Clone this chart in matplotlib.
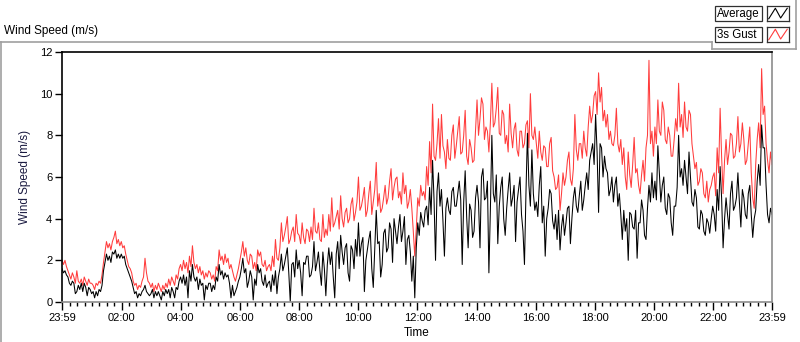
import numpy as np
import matplotlib.pyplot as plt
from matplotlib.lines import Line2D
from matplotlib.patches import Rectangle

# wind speed (m/s), 20 samples per hour (3 min) starting at 23:59
gust = [
    2.0, 1.8, 2.0, 1.7, 1.5, 1.3, 1.1, 1.4, 1.2, 0.9, 1.5, 1.0, 0.9, 1.1, 0.8, 1.2, 1.0, 0.8, 1.1, 0.9,
    0.9, 0.8, 0.6, 0.9, 0.8, 1.0, 0.9, 1.3, 1.9, 2.4, 2.9, 2.6, 2.8, 2.5, 2.9, 3.1, 3.4, 2.8, 3.0, 2.7,
    2.9, 2.6, 2.7, 2.3, 2.0, 1.7, 1.6, 1.4, 1.0, 0.8, 0.9, 0.6, 0.8, 0.7, 1.0, 1.2, 2.1, 1.4, 1.0, 0.9,
    0.7, 0.9, 0.5, 0.8, 0.6, 0.9, 0.7, 0.5, 0.8, 0.6, 0.9, 0.7, 1.1, 0.8, 1.2, 1.0, 0.8, 1.3, 1.1, 1.6,
    1.8, 1.5, 2.0, 1.6, 1.9, 1.4, 2.2, 1.7, 2.7, 1.9, 1.6, 1.8, 1.4, 1.7, 1.3, 1.5, 1.1, 1.4, 1.2, 1.5,
    1.4, 1.1, 1.3, 1.0, 1.7, 1.5, 2.5, 2.0, 2.2, 1.8, 2.3, 1.9, 2.1, 1.6, 1.8, 1.5, 1.2, 1.0, 1.3, 1.6,
    2.0, 2.4, 2.9, 2.2, 2.6, 2.0, 1.8, 2.3, 2.2, 1.6, 1.9, 1.5, 2.5, 2.2, 2.4, 1.8, 1.7, 2.0, 1.5, 1.7,
    1.8, 1.5, 2.2, 1.7, 3.0, 2.1, 2.0, 2.6, 3.8, 2.9, 3.2, 3.6, 4.1, 2.8, 3.0, 3.4, 3.6, 2.9, 4.2, 3.3,
    3.2, 2.8, 3.8, 3.1, 2.8, 3.5, 3.4, 2.9, 3.6, 3.0, 4.5, 3.4, 3.3, 3.8, 3.0, 2.9, 4.2, 3.1, 3.5, 3.2,
    4.2, 3.4, 5.0, 3.6, 3.8, 4.1, 4.4, 3.5, 5.1, 4.0, 3.6, 4.3, 4.5, 3.8, 4.0, 4.7, 5.0, 3.9, 4.3, 4.8,
    6.0, 4.4, 4.6, 5.0, 5.5, 4.1, 4.4, 5.2, 5.8, 4.2, 4.8, 5.4, 6.7, 4.6, 5.2, 4.3, 4.5, 5.0, 5.6, 4.7,
    5.0, 5.8, 6.4, 4.9, 5.5, 5.9, 6.0, 5.0, 5.3, 4.7, 6.2, 5.2, 5.6, 4.5, 4.8, 5.4, 4.5, 3.4, 2.2, 3.5,
    5.0, 4.6, 5.6, 5.1, 5.3, 4.9, 6.5, 5.6, 7.7, 6.2, 9.5, 7.0, 6.8, 7.6, 8.8, 6.9, 9.0, 7.5, 7.2, 6.4,
    7.8, 6.9, 6.8, 8.0, 8.5, 6.9, 7.5, 8.2, 8.9, 7.1, 7.2, 8.0, 9.2, 7.0, 6.6, 7.8, 7.4, 6.7, 6.8, 8.2,
    9.7, 8.0, 8.8, 9.8, 9.5, 7.8, 8.4, 8.2, 7.2, 8.6, 10.5, 8.4, 8.6, 9.3, 10.3, 8.1, 8.0, 9.2, 9.0, 7.6,
    8.0, 7.2, 9.5, 8.1, 7.4, 8.3, 8.6, 7.3, 7.0, 8.2, 8.2, 7.4, 7.6, 8.5, 8.7, 7.4, 10.0, 8.0, 7.8, 8.4,
    7.6, 6.9, 8.2, 7.2, 6.8, 7.5, 7.4, 6.5, 6.5, 7.6, 7.9, 6.3, 6.0, 5.4, 5.5, 6.1, 4.4, 5.2, 6.2, 5.6,
    6.0, 6.8, 7.2, 5.9, 5.6, 6.4, 9.0, 7.3, 6.8, 7.6, 7.6, 6.9, 8.2, 7.4, 7.0, 8.4, 9.4, 8.6, 9.0, 9.9,
    10.1, 9.0, 11.0, 9.6, 10.3, 8.7, 9.2, 8.4, 9.0, 7.8, 8.2, 7.6, 7.5, 8.0, 9.3, 7.6, 7.2, 7.8, 6.6, 7.4,
    6.0, 5.4, 7.2, 6.1, 5.5, 6.6, 7.9, 6.2, 6.4, 5.6, 5.2, 6.1, 6.8, 5.8, 7.4, 8.0, 11.6, 7.6, 8.2, 7.0,
    8.4, 7.6, 9.7, 8.2, 8.0, 9.6, 9.2, 7.8, 7.6, 8.4, 8.0, 7.0, 7.0, 7.8, 8.8, 8.2, 10.5, 8.4, 9.0, 7.9,
    9.6, 8.4, 8.2, 9.2, 9.0, 7.6, 7.0, 6.4, 6.7, 5.6, 5.8, 6.4, 6.2, 5.2, 5.0, 5.8, 4.8, 5.4, 5.6, 6.0,
    6.2, 5.1, 7.4, 6.2, 9.3, 7.0, 5.2, 6.8, 7.8, 6.6, 7.2, 8.1, 8.0, 6.9, 7.0, 7.6, 8.9, 7.2, 7.6, 8.6,
    7.8, 6.6, 6.8, 7.6, 8.4, 6.2, 5.0, 4.5, 6.6, 7.8, 8.6, 7.4, 11.2, 9.0, 9.4, 7.6, 6.8, 6.2, 7.2, 6.6,
]

average = [
    1.6, 1.4, 1.5, 1.3, 1.2, 0.9, 0.8, 1.0, 0.9, 0.4, 0.5, 0.8, 0.6, 0.9, 0.5, 0.9, 0.7, 0.3, 0.7, 0.6,
    0.4, 0.5, 0.2, 0.5, 0.3, 0.6, 0.5, 0.8, 1.5, 1.9, 2.3, 2.0, 2.2, 1.9, 2.4, 2.3, 2.5, 2.1, 2.3, 2.1,
    2.3, 2.1, 2.2, 1.8, 1.6, 1.4, 1.2, 1.0, 0.7, 0.4, 0.5, 0.2, 0.4, 0.3, 0.5, 0.6, 0.8, 0.5, 0.4, 0.3,
    0.4, 0.6, 0.2, 0.5, 0.3, 0.5, 0.3, 0.1, 0.5, 0.3, 0.6, 0.4, 0.6, 0.2, 0.7, 0.5, 0.2, 0.7, 0.6, 1.0,
    1.2, 0.9, 1.3, 0.8, 1.2, 0.2, 1.5, 1.0, 1.8, 1.2, 1.0, 1.2, 0.6, 1.1, 0.8, 0.9, 0.1, 0.8, 0.6, 0.9,
    0.9, 0.5, 0.8, 0.6, 1.2, 1.0, 1.8, 1.3, 1.5, 1.1, 1.4, 1.2, 1.3, 0.9, 0.2, 0.8, 0.3, 0.5, 0.7, 1.0,
    1.2, 1.6, 2.1, 1.4, 1.6, 0.7, 1.0, 1.5, 1.2, 0.1, 1.1, 0.8, 1.8, 1.4, 1.6, 1.0, 0.8, 1.3, 0.7, 0.9,
    1.0, 0.5, 1.3, 0.8, 1.5, 0.4, 1.2, 1.6, 2.3, 1.5, 1.8, 2.2, 2.6, 1.4, 0.0, 1.8, 1.9, 1.2, 2.5, 1.6,
    2.0, 1.4, 0.3, 1.9, 1.8, 2.2, 2.2, 1.2, 1.3, 1.7, 2.9, 1.5, 1.9, 2.4, 1.5, 0.8, 2.4, 1.6, 0.3, 1.8,
    2.6, 1.8, 2.4, 1.2, 0.2, 2.3, 2.9, 1.6, 3.2, 2.4, 1.8, 2.6, 2.8, 1.4, 1.0, 2.7, 2.5, 1.6, 3.0, 2.2,
    3.8, 2.2, 2.8, 3.1, 0.5, 2.0, 2.5, 3.0, 3.4, 1.6, 0.7, 2.6, 4.4, 2.8, 2.9, 1.2, 1.8, 3.3, 3.5, 2.4,
    2.6, 3.8, 3.5, 1.9, 4.0, 3.4, 2.8, 3.6, 4.2, 2.9, 3.4, 4.1, 1.8, 3.0, 3.2, 2.4, 1.0, 2.2, 0.2, 2.6,
    3.8, 3.2, 4.3, 3.9, 3.6, 4.4, 4.6, 3.7, 5.5, 4.2, 6.8, 4.9, 2.0, 5.3, 6.2, 4.6, 5.4, 3.9, 2.2, 4.5,
    5.0, 4.4, 4.2, 5.3, 5.5, 4.6, 4.6, 5.2, 5.8, 4.9, 1.8, 4.8, 6.3, 4.1, 2.6, 4.7, 4.4, 3.1, 3.4, 5.0,
    5.6, 4.8, 2.6, 6.0, 6.4, 4.9, 5.0, 5.8, 1.4, 4.4, 8.0, 5.2, 4.8, 6.1, 2.8, 4.6, 5.5, 6.0, 4.0, 3.2,
    4.5, 5.4, 6.2, 4.6, 5.0, 5.6, 2.9, 4.8, 5.4, 6.0, 4.2, 3.4, 1.8, 5.2, 8.1, 5.6, 4.6, 7.3, 5.2, 4.4,
    4.8, 4.1, 5.6, 6.5, 3.8, 4.6, 2.2, 4.0, 4.5, 5.4, 5.2, 3.9, 3.5, 4.2, 3.0, 4.4, 2.5, 3.6, 4.2, 3.2,
    3.8, 4.5, 4.6, 2.8, 4.0, 5.0, 5.5, 4.6, 4.3, 5.1, 5.8, 4.4, 4.9, 5.6, 6.2, 5.4, 6.8, 7.2, 7.6, 6.6,
    9.0, 7.2, 4.3, 7.6, 7.4, 6.0, 7.0, 6.4, 6.2, 5.1, 5.4, 6.0, 4.8, 5.6, 6.0, 4.6, 5.2, 4.2, 3.0, 4.4,
    3.4, 4.0, 2.0, 4.3, 4.2, 3.6, 3.5, 4.4, 2.1, 3.8, 3.8, 4.9, 4.4, 3.2, 3.0, 4.5, 5.6, 4.8, 6.2, 5.0,
    5.8, 4.9, 7.5, 6.2, 4.8, 5.6, 6.0, 4.5, 4.2, 5.2, 5.0, 3.8, 3.2, 4.6, 4.6, 5.5, 8.0, 6.0, 6.4, 5.6,
    6.8, 6.0, 5.2, 7.2, 6.0, 4.8, 4.6, 5.4, 5.0, 3.6, 3.5, 4.4, 4.2, 3.4, 3.2, 4.0, 3.8, 3.3, 4.0, 4.6,
    4.2, 3.4, 5.4, 4.4, 6.5, 5.0, 2.6, 4.0, 5.0, 4.2, 3.5, 5.2, 5.8, 4.4, 4.6, 5.0, 6.2, 4.8, 3.6, 5.4,
    5.0, 4.2, 4.0, 5.2, 5.6, 4.2, 3.1, 4.0, 4.4, 5.8, 6.6, 5.6, 8.5, 7.4, 7.4, 5.6, 4.2, 3.8, 4.5, 4.2,
]

tick_labels = ["23:59", "02:00", "04:00", "06:00", "08:00", "10:00", "12:00",
               "14:00", "16:00", "18:00", "20:00", "22:00", "23:59"]
tick_minutes = [0, 121, 241, 361, 481, 601, 721, 841, 961, 1081, 1201, 1321, 1440]

W, H = 800, 342
plt.rcParams["font.family"] = ["Liberation Sans", "DejaVu Sans"]

def fx(x):
    return x / W

def fy(y):
    return 1 - y / H

fig = plt.figure(figsize=(W / 100, H / 100), dpi=100)

# plot area
ax = fig.add_axes([fx(62), fy(302), fx(772) - fx(62), fy(52) - fy(302)])
t = np.linspace(0, 1440, len(gust))
ax.plot(t, gust, color="#ff3c3c", lw=0.75)
ax.plot(t, average, color="black", lw=0.75)

ax.set_xlim(0, 1440)
ax.set_ylim(0, 12)
ax.set_yticks(range(0, 13, 2))
ax.set_xticks(tick_minutes)
ax.set_xticklabels(tick_labels)
ax.set_xticks(np.arange(16, 1440, 15), minor=True)
ax.tick_params(axis="both", labelsize=8, color="black", width=1, pad=2)
ax.tick_params(axis="x", which="major", length=6)
ax.tick_params(axis="x", which="minor", length=3, width=1)
ax.tick_params(axis="y", length=5)
for s in ["top", "left"]:
    ax.spines[s].set_color("black")
    ax.spines[s].set_linewidth(1.2)
for s in ["bottom", "right"]:
    ax.spines[s].set_color("#8c8c8c")
    ax.spines[s].set_linewidth(1.2)

ax.set_xlabel("Time", fontsize=8.5, labelpad=3)
ax.set_ylabel("Wind Speed (m/s)", fontsize=8.5, color="#1a1a40", labelpad=6)

# outer frame and title
gray = "#a0a0a0"
for xs, ys in [((0, 712), (42, 42)), ((1, 1), (42, 342)),
               ((712, 712), (42, 49)), ((712, 796), (49, 49)), ((796, 796), (0, 49))]:
    fig.add_artist(Line2D([fx(v) for v in xs], [fy(v) for v in ys],
                          color=gray, lw=1.2, transform=fig.transFigure))
fig.text(fx(4), fy(31), "Wind Speed (m/s)", fontsize=8.5, va="center", ha="left")

# legend
legend_rows = [("Average", "black", 6), ("3s Gust", "#ff3c3c", 27)]
for name, col, top in legend_rows:
    fig.add_artist(Rectangle((fx(715), fy(top + 15)), fx(762) - fx(715), fy(top) - fy(top + 15),
                             transform=fig.transFigure, facecolor="white",
                             edgecolor="#303030", lw=0.9))
    fig.text(fx(717), fy(top + 7.5), name, fontsize=8.3, va="center", ha="left")
    iax = fig.add_axes([fx(767), fy(top + 15), fx(789) - fx(767), fy(top) - fy(top + 15)])
    iax.plot([0.08, 0.38, 0.62, 0.92], [0.15, 0.85, 0.2, 0.85], color=col, lw=0.8)
    iax.set_xlim(0, 1)
    iax.set_ylim(0, 1)
    iax.set_xticks([])
    iax.set_yticks([])
    for s in iax.spines.values():
        s.set_color("#303030")
        s.set_linewidth(0.9)

fig.savefig("out.png", dpi=100)
